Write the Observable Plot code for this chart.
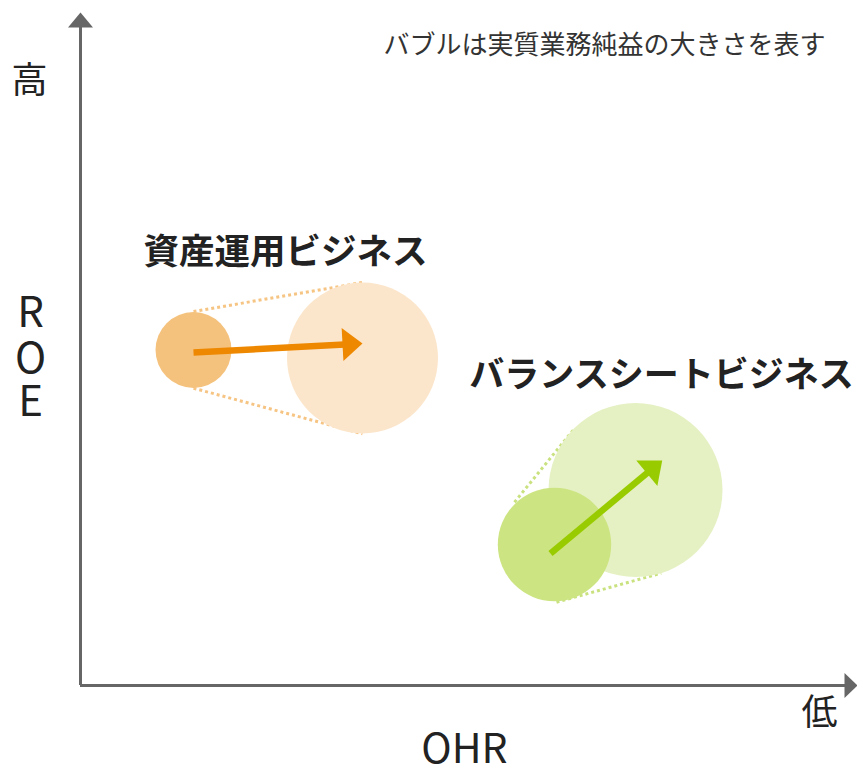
<!DOCTYPE html>
<html>
<head>
<meta charset="utf-8">
<script src="https://cdn.jsdelivr.net/npm/d3@7"></script>
<script src="https://cdn.jsdelivr.net/npm/@observablehq/plot@0.6"></script>
<style>
  html, body { margin: 0; padding: 0; background: #fff; }
  #chart svg { display: block; }
</style>
</head>
<body>
<div id="chart"></div>
<script>
// ---- Data (conceptual coordinates: OHR offset along x, ROE offset along y) ----
const businesses = ["資産運用ビジネス", "バランスシートビジネス"];
// Bubble before (small) and after (large): position and size (radius)
const ohrBefore  = [113, 474];
const roeBefore  = [335.5, 141];
const sizeBefore = [38, 56.7];
const ohrAfter   = [282, 555];
const roeAfter   = [327.5, 195.5];
const sizeAfter  = [75.5, 87];
// Movement arrows
const arrowFromX = [113, 470];
const arrowFromY = [333, 132];
const arrowToX   = [282, 581.7];
const arrowToY   = [342, 225];
// Dotted connector lines (two per business)
const linkBiz = [0, 0, 1, 1];
const linkX1  = [113, 113, 434, 476];
const linkY1  = [374, 297.3, 183.3, 83.3];
const linkX2  = [282, 282, 494, 580.7];
const linkY2  = [403, 251.7, 257, 112.3];
// Business label positions and sizes
const labelX = [205, 581];
const labelY = [432.5, 310];
const labelSize = [35.5, 35];
// Axis texts
const axisEnds = { xMax: 777, yMax: 673 };
const yHigh = "高";
const xLow = "低";
const yTitleLetters = ["R", "O", "E"];
const yTitleY = [371.5, 325.5, 282.5];
const xTitle = "OHR";
const note = "バブルは実質業務純益の大きさを表す";

// ---- Styles ----
const bubbleBeforeColor = ["#F5C27D", "#CDE482"];
const bubbleAfterColor  = ["#FCE6CB", "#E5F1C3"];
const arrowColor        = ["#EE8800", "#99CC00"];
const dotLineColor      = ["#F6C483", "#C9E27F"];
const axisColor = "#666666";
const textColor = "#222222";
const font = "'Noto Sans CJK JP', 'Noto Sans', sans-serif";

// ---- Derived tables ----
const bubbles = businesses.map((name, i) => ({name, i}));
const links = linkBiz.map((b, k) => ({b, x1: linkX1[k], y1: linkY1[k], x2: linkX2[k], y2: linkY2[k]}));

const headLen = 20, headHalf = 16.5;
const arrowShafts = [], arrowHeads = [];
businesses.forEach((name, i) => {
  const x0 = arrowFromX[i], y0 = arrowFromY[i], x1 = arrowToX[i], y1 = arrowToY[i];
  const dx = x1 - x0, dy = y1 - y0, L = Math.hypot(dx, dy);
  const ux = dx / L, uy = dy / L, px = -uy, py = ux;
  const bx = x1 - ux * headLen, by = y1 - uy * headLen;
  arrowShafts.push({i, x1: x0, y1: y0, x2: x1 - ux * (headLen - 2), y2: y1 - uy * (headLen - 2)});
  arrowHeads.push({i, x: x1, y: y1});
  arrowHeads.push({i, x: bx + px * headHalf, y: by + py * headHalf});
  arrowHeads.push({i, x: bx - px * headHalf, y: by - py * headHalf});
});

// Axis arrowheads derived from the axis extents
const axHead = 15, axHalf = 12.5;
const axisHeads = [
  {a: "y", x: 0, y: axisEnds.yMax},
  {a: "y", x: -axHalf, y: axisEnds.yMax - axHead},
  {a: "y", x: axHalf, y: axisEnds.yMax - axHead},
  {a: "x", x: axisEnds.xMax, y: 0},
  {a: "x", x: axisEnds.xMax - axHead + 2, y: axHalf},
  {a: "x", x: axisEnds.xMax - axHead + 2, y: -axHalf}
];

const marks = [
  // dotted connectors
  Plot.link(links, {
    x1: "x1", y1: "y1", x2: "x2", y2: "y2",
    stroke: d => dotLineColor[d.b], strokeWidth: 3, strokeDasharray: "3,3"
  }),
  // bubbles after
  Plot.dot(bubbles, {
    x: d => ohrAfter[d.i], y: d => roeAfter[d.i], r: d => sizeAfter[d.i],
    fill: d => bubbleAfterColor[d.i], stroke: null
  }),
  // bubbles before
  Plot.dot(bubbles, {
    x: d => ohrBefore[d.i], y: d => roeBefore[d.i], r: d => sizeBefore[d.i],
    fill: d => bubbleBeforeColor[d.i], stroke: null
  }),
  // arrow shafts
  Plot.link(arrowShafts, {
    x1: "x1", y1: "y1", x2: "x2", y2: "y2",
    stroke: d => arrowColor[d.i], strokeWidth: 6.5
  }),
  // arrow heads
  ...businesses.map((n, i) => Plot.line(arrowHeads.filter(d => d.i === i), {
    x: "x", y: "y", fill: arrowColor[i], stroke: null, curve: "linear-closed"
  })),
  // axes
  Plot.ruleX([0], {y1: 0, y2: axisEnds.yMax - axHead + 1, stroke: axisColor, strokeWidth: 3}),
  Plot.ruleY([0], {x1: 0, x2: axisEnds.xMax - axHead + 3, stroke: axisColor, strokeWidth: 3}),
  Plot.line(axisHeads.filter(d => d.a === "y"), {x: "x", y: "y", fill: axisColor, stroke: null, curve: "linear-closed"}),
  Plot.line(axisHeads.filter(d => d.a === "x"), {x: "x", y: "y", fill: axisColor, stroke: null, curve: "linear-closed"}),
  // axis texts
  Plot.text([yHigh], {x: -51, y: 604, text: d => d, fontSize: 36, fill: textColor, fontFamily: font, lineAnchor: "middle"}),
  Plot.text([xLow], {x: 739, y: -27.5, text: d => d, fontSize: 36, fill: textColor, fontFamily: font, lineAnchor: "middle"}),
  Plot.text(yTitleLetters, {x: -50, y: (d, k) => yTitleY[k], text: d => d, fontSize: 42, fill: textColor, fontFamily: font, lineAnchor: "middle"}),
  Plot.text([xTitle], {x: 384, y: -64, text: d => d, fontSize: 41, fill: textColor, fontFamily: font, lineAnchor: "middle"}),
  Plot.text([note], {x: 303, y: 640, text: d => d, fontSize: 26, fill: "#333333", fontFamily: font, textAnchor: "start", lineAnchor: "middle"}),
  // business labels
  Plot.text(bubbles, {
    x: d => labelX[d.i], y: d => labelY[d.i], text: "name",
    fontSize: d => labelSize[d.i], fontWeight: "bold", fill: textColor, fontFamily: font, lineAnchor: "middle"
  })
];

const chart = Plot.plot({
  width: 857,
  height: 769,
  margin: 0,
  x: {domain: [0, axisEnds.xMax], range: [80, 857], axis: null},
  y: {domain: [0, axisEnds.yMax], range: [685, 12], axis: null},
  r: {type: "identity"},
  style: {background: "#fff", fontFamily: font, overflow: "visible"},
  marks
});
document.getElementById("chart").appendChild(chart);
</script>
</body>
</html>
